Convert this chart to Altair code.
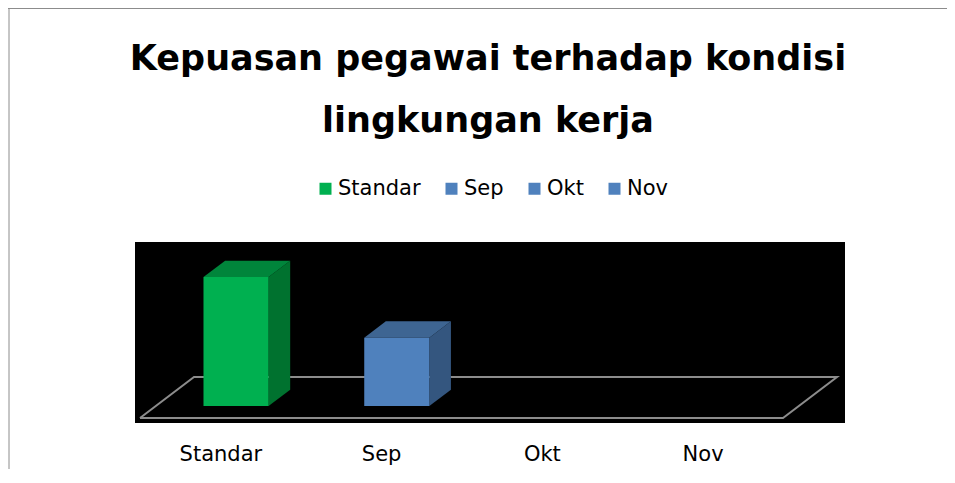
import json
import altair as alt
import pandas as pd

# ---- data ----
categories = ["Standar", "Sep", "Okt", "Nov"]
values = [100, 53, 0, 0]
front_colors = ["#00B050", "#4F81BD", "#4F81BD", "#4F81BD"]
top_colors = ["#00853B", "#3E6592", "#3E6592", "#3E6592"]
side_colors = ["#00722F", "#34567F", "#34567F", "#34567F"]
title_lines = ["Kepuasan pegawai terhadap kondisi", "lingkungan kerja"]

# ---- 3-D projection constants (category units across, value units up) ----
X_DOMAIN = [-0.0311, 4.3857]
Y_DOMAIN = [-3.88, 136.4]
FLOOR_DX, FLOOR_DY = 0.336, 31.8
BAR_D0, BAR_D1 = 0.29, 0.69
BAR_HALF = 0.2025

front_rows, side_rows, top_rows = [], [], []
for i, (cat, v) in enumerate(zip(categories, values)):
    if v <= 0:
        continue
    c = i + 0.5
    xl0 = c - BAR_HALF + BAR_D0 * FLOOR_DX
    xr0 = c + BAR_HALF + BAR_D0 * FLOOR_DX
    xl1 = c - BAR_HALF + BAR_D1 * FLOOR_DX
    xr1 = c + BAR_HALF + BAR_D1 * FLOOR_DX
    b0 = BAR_D0 * FLOOR_DY
    b1 = BAR_D1 * FLOOR_DY
    front_rows.append(dict(cat=cat, x=xl0, x2=xr0, y=b0, y2=v + b0))
    side_rows += [
        dict(cat=cat, x=xr0, lo=b0, hi=v + b0, fill=side_colors[i]),
        dict(cat=cat, x=xr1, lo=b1, hi=v + b1, fill=side_colors[i]),
    ]
    top_rows += [
        dict(cat=cat, x=xl0, lo=v + b0, hi=v + b0, fill=top_colors[i]),
        dict(cat=cat, x=xl1, lo=v + b0, hi=v + b1, fill=top_colors[i]),
        dict(cat=cat, x=xr0, lo=v + b0, hi=v + b1, fill=top_colors[i]),
        dict(cat=cat, x=xr1, lo=v + b1, hi=v + b1, fill=top_colors[i]),
    ]

n = len(categories)
floor_df = pd.DataFrame({
    "x": [0, n, n + FLOOR_DX, FLOOR_DX, 0],
    "y": [0, 0, FLOOR_DY, FLOOR_DY, 0],
    "o": [0, 1, 2, 3, 4],
})

FONT = "DejaVu Sans"
label_expr = json.dumps(categories).replace('"', "'") + "[floor(datum.value)]"

x_axis = alt.Axis(
    values=[i + 0.5 for i in range(n)],
    labelExpr=label_expr,
    domain=False, ticks=False, tickSize=0, grid=False, title=None,
    labelFont=FONT, labelFontSize=21, labelColor="#000000",
    labelPadding=20, labelFlush=False, labelOverlap=False, labelAlign="center",
)
xs = alt.Scale(domain=X_DOMAIN, zero=False, nice=False)
ys = alt.Scale(domain=Y_DOMAIN, zero=False, nice=False)


def X(field):
    return alt.X(field, type="quantitative", scale=xs, axis=x_axis)


def Y(field):
    return alt.Y(field, type="quantitative", scale=ys, axis=None)


floor = alt.Chart(floor_df).mark_line(color="#8C8C8C", strokeWidth=2).encode(
    x=X("x"), y=Y("y"), order="o:Q"
)

side = alt.Chart(pd.DataFrame(side_rows)).mark_area(interpolate="linear", strokeWidth=0).encode(
    x=X("x"), y=Y("hi"), y2="lo", detail="cat:N", fill=alt.Fill("fill:N", scale=None)
)

top = alt.Chart(pd.DataFrame(top_rows)).mark_area(interpolate="linear", strokeWidth=0).encode(
    x=X("x"), y=Y("hi"), y2="lo", detail="cat:N", fill=alt.Fill("fill:N", scale=None)
)

front = alt.Chart(pd.DataFrame(front_rows)).mark_rect().encode(
    x=X("x"), x2="x2", y=Y("y"), y2="y2",
    color=alt.Color(
        "cat:N",
        scale=alt.Scale(domain=categories, range=front_colors),
        sort=categories,
        legend=alt.Legend(
            title=None, orient="none", legendX=180, legendY=-64,
            direction="horizontal", columns=4, columnPadding=20,
            symbolType="square", symbolSize=144, symbolStrokeWidth=0,
            labelFont=FONT, labelFontSize=21, labelColor="#000000",
            labelOffset=2, padding=0,
        ),
    ),
)

frame_df = pd.DataFrame({"k": [0]})
top_border = alt.Chart(frame_df).mark_rule(color="#8C8C8C", strokeWidth=1).encode(
    x=alt.value(-127), x2=alt.value(820), y=alt.value(-233.5)
)
left_border = alt.Chart(frame_df).mark_rule(color="#8C8C8C", strokeWidth=1).encode(
    x=alt.value(-126), y=alt.value(-233.5), y2=alt.value(228)
)

chart = alt.layer(top_border, left_border, floor, side, top, front).properties(
    width=710,
    height=181,
    autosize=alt.AutoSizeParams(type="none"),
    padding={"left": 127, "top": 234, "right": 102, "bottom": 46},
    background="#FFFFFF",
    title=alt.TitleParams(
        text=title_lines, font=FONT, fontSize=35, fontWeight="bold",
        color="#000000", anchor="middle", frame="group", offset=-131,
        lineHeight=62, dx=-2,
    ),
).configure_view(fill="#000000", strokeWidth=0)

chart.save("out.html", embed_options={"renderer": "svg", "actions": False})
